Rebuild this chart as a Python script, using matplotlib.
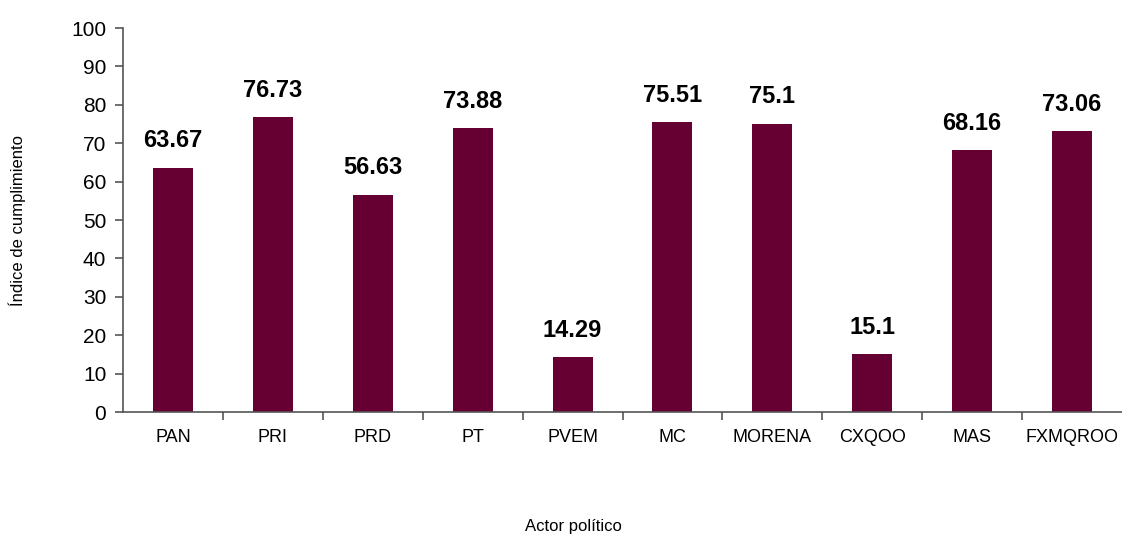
import matplotlib
matplotlib.use("Agg")
import matplotlib.pyplot as plt
from matplotlib import font_manager

names = {f.name for f in font_manager.fontManager.ttflist}
fam = ["Liberation Sans Narrow"] if "Liberation Sans Narrow" in names else ["Liberation Sans"]
plt.rcParams['font.family'] = fam + ["DejaVu Sans"]

categories = ["PAN", "PRI", "PRD", "PT", "PVEM", "MC", "MORENA", "CXQOO", "MAS", "FXMQROO"]
values = [63.67, 76.73, 56.63, 73.88, 14.29, 75.51, 75.1, 15.1, 68.16, 73.06]
value_labels = ["63.67", "76.73", "56.63", "73.88", "14.29", "75.51", "75.1", "15.1", "68.16", "73.06"]
yticks = list(range(0, 101, 10))

fig = plt.figure(figsize=(11.22, 5.35), dpi=100)
ax = fig.add_axes([123/1122, 1-412/535, 999/1122, (412-28)/535])

x = list(range(len(categories)))
ax.bar(x, values, width=0.4, color="#660033")
for xi, v, lab in zip(x, values, value_labels):
    ax.text(xi, v + 4, lab, ha="center", va="bottom", fontsize=17, fontweight="bold", color="black")

ax.set_xlim(-0.5, len(categories) - 0.5)
ax.set_ylim(0, 100)
ax.set_yticks(yticks)
ax.set_yticklabels([str(t) for t in yticks], fontsize=15)
ax.set_xticks(x)
ax.set_xticklabels(categories, fontsize=13)
ax.set_xticks([i + 0.5 for i in range(len(categories) - 1)], minor=True)
ax.tick_params(axis="x", which="major", length=0, pad=12)
ax.tick_params(axis="x", which="minor", length=6, direction="out", color="#555555", width=1.2)
ax.tick_params(axis="y", length=6, direction="out", color="#555555", width=1.2, pad=6)

for s in ["top", "right"]:
    ax.spines[s].set_visible(False)
for s in ["left", "bottom"]:
    ax.spines[s].set_color("#555555")
    ax.spines[s].set_linewidth(1.2)

fig.text(17/1122, 1-220/535, "Índice de cumplimiento", rotation=90, ha="center", va="center", fontsize=12)
fig.text(573/1122, 1-527/535, "Actor político", ha="center", va="center", fontsize=12)

fig.savefig("out.png", dpi=100)
